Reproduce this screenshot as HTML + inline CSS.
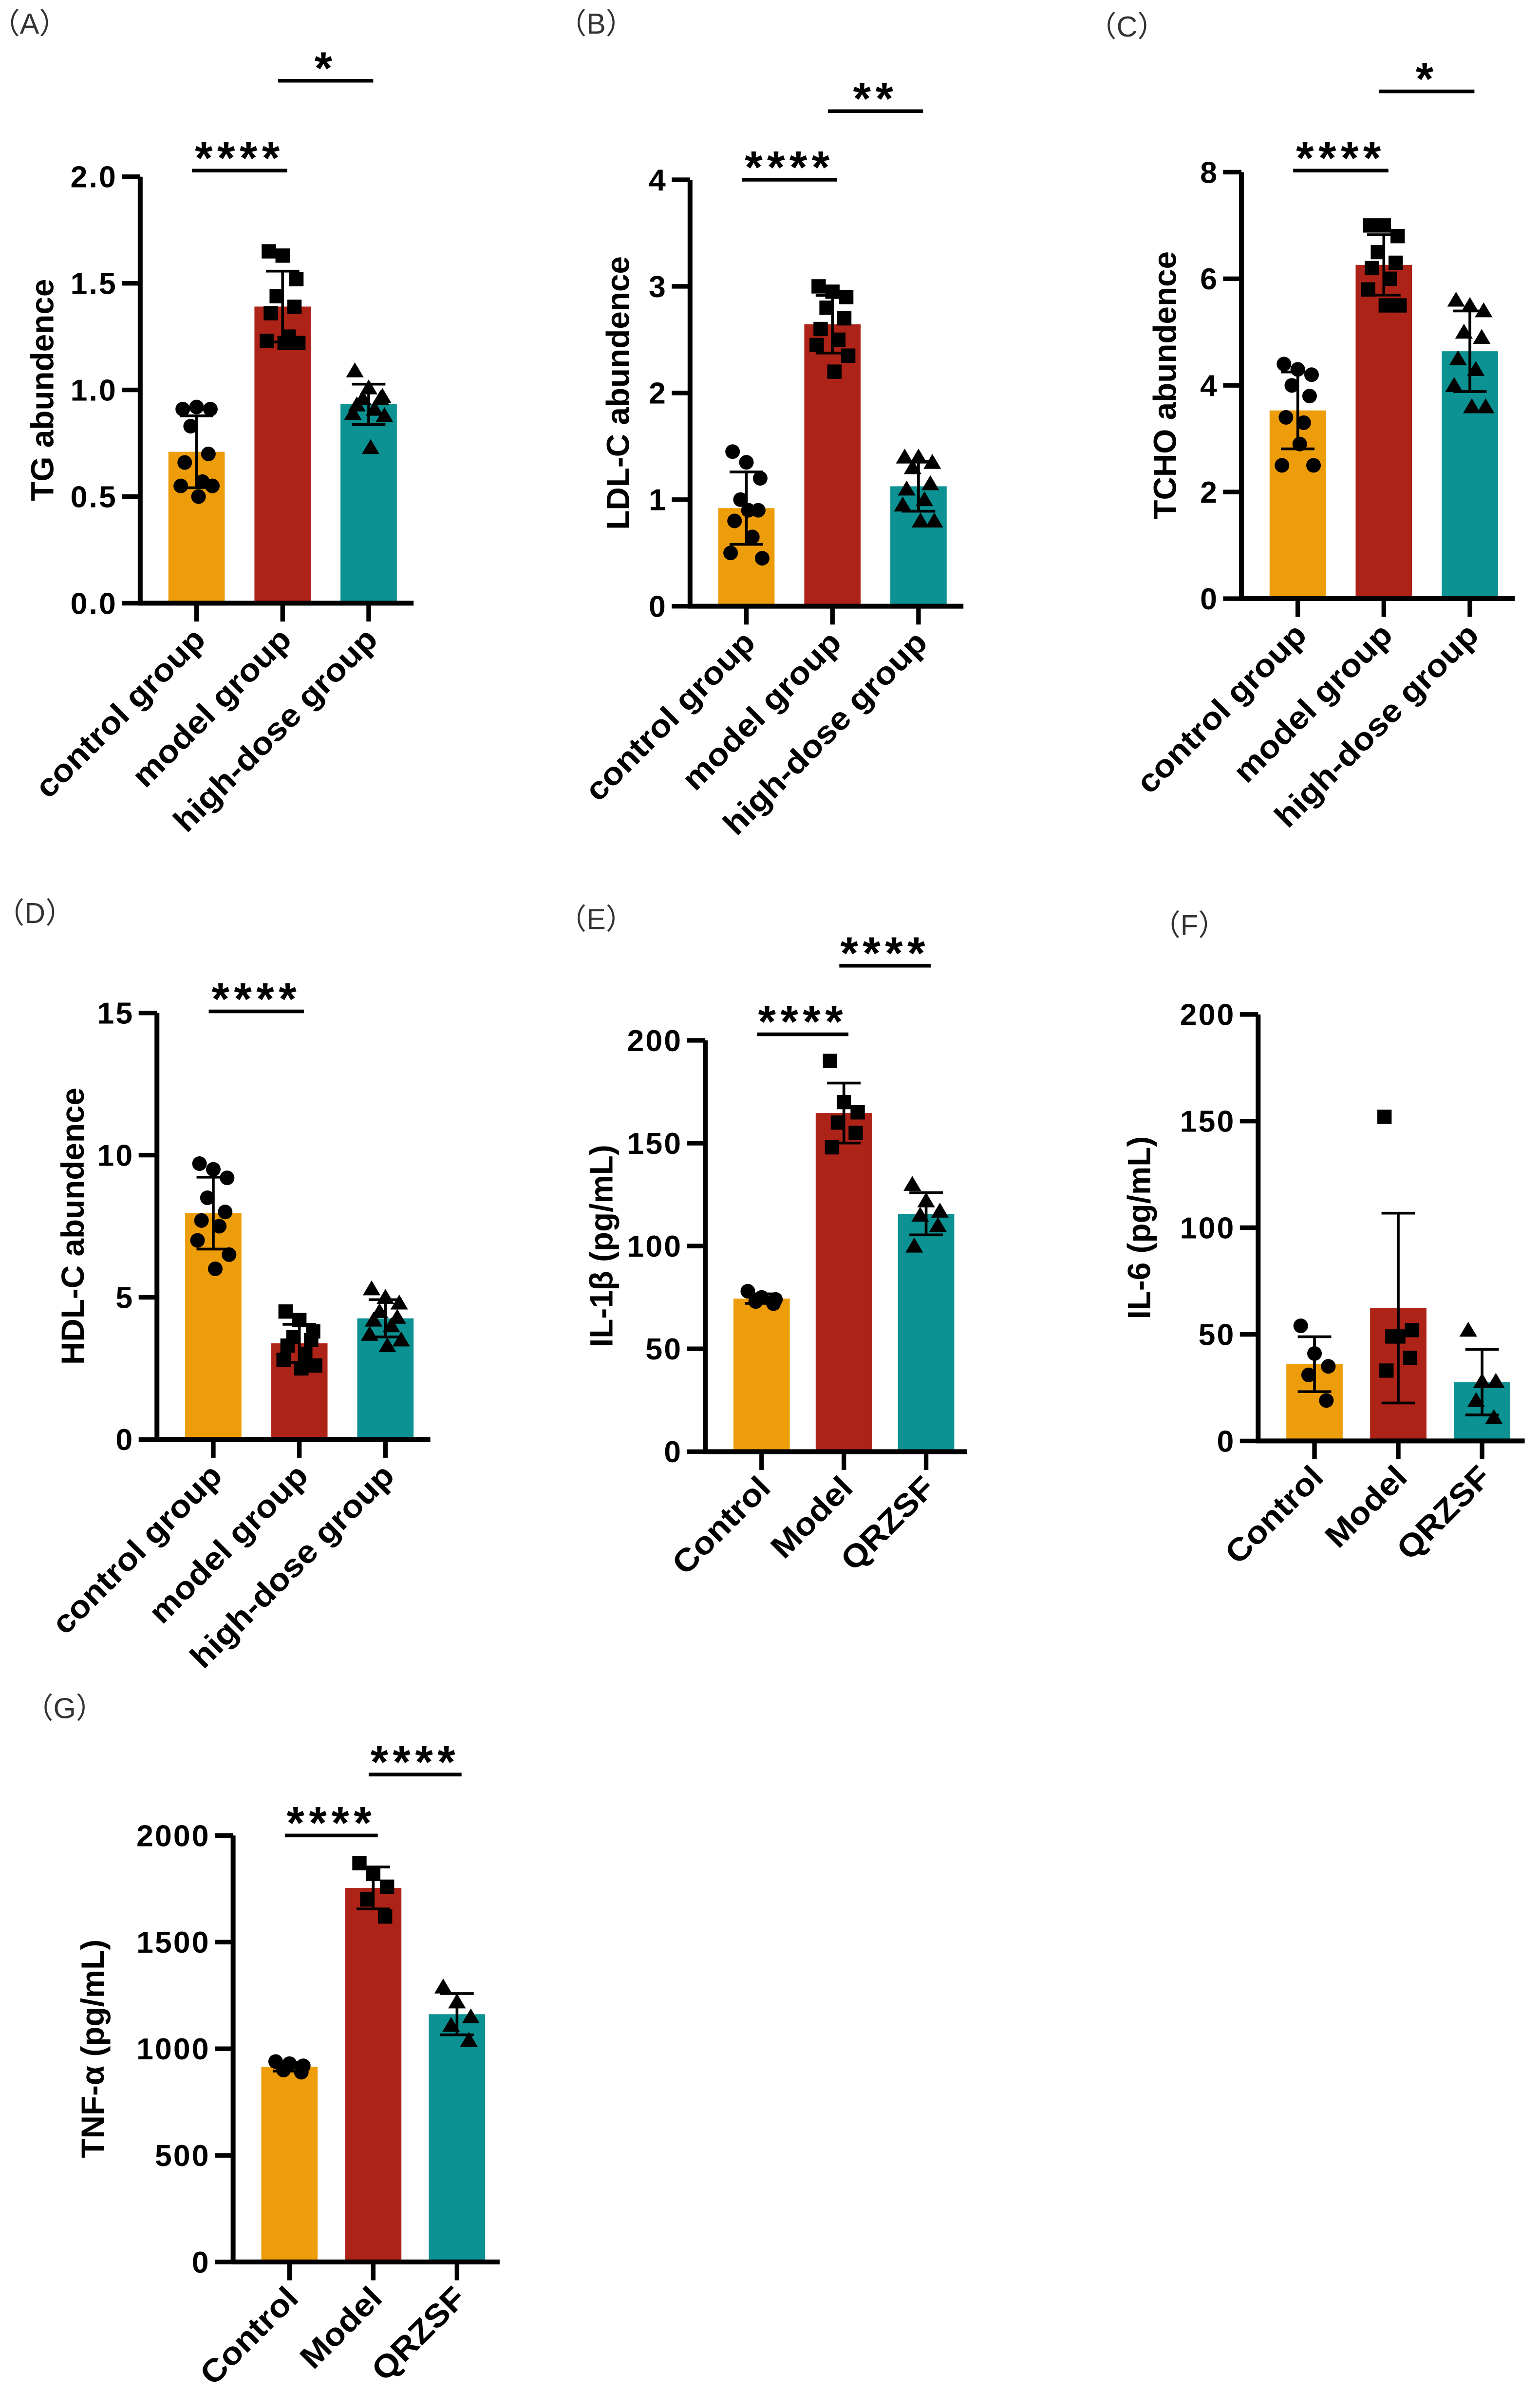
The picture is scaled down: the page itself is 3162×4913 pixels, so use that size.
<!DOCTYPE html>
<html><head><meta charset="utf-8"><style>
html,body{margin:0;padding:0;background:#fff;}
svg{display:block;}
text{font-family:"Liberation Sans",Arial,sans-serif;}
</style></head><body>
<svg id="fig" xmlns="http://www.w3.org/2000/svg" width="3162" height="4913" viewBox="0 0 1011 1571"></svg>
<script>
// ---- data arrays ----
const catsLong = ["control group","model group","high-dose group"];
const catsShort = ["Control","Model","QRZSF"];
const tgValues = [[0.91,0.92,0.91,0.83,0.70,0.66,0.57,0.55,0.55,0.50],[1.65,1.63,1.52,1.44,1.39,1.36,1.25,1.23,1.22,1.22],[1.09,1.01,0.97,0.96,0.96,0.93,0.91,0.89,0.88,0.73]];
const ldlValues = [[1.45,1.35,1.2,1.0,0.9,0.8,0.65,0.5,0.45,0.9],[3.0,2.95,2.9,2.8,2.7,2.6,2.5,2.45,2.35,2.2],[1.4,1.4,1.35,1.3,1.15,1.1,1.0,0.95,0.8,0.8]];
const tchoValues = [[4.4,4.3,4.2,4.0,3.8,3.4,3.3,2.5,2.5,2.9],[7.0,7.0,6.8,6.5,6.3,6.2,6.0,5.8,5.5,5.5],[5.6,5.5,5.4,5.0,4.9,4.5,4.3,4.0,3.6,3.6]];
const hdlValues = [[9.7,9.5,9.2,8.5,8.0,7.7,7.5,7.0,6.5,6.0],[4.5,4.2,3.8,3.6,3.5,3.3,3.0,2.8,2.6,2.5],[5.3,5.0,4.8,4.5,4.3,4.2,4.0,3.7,3.5,3.3]];
const il1bValues = [[78,75,74,73,72],[190,170,165,160,155,148],[130,122,117,115,110,100]];
const il6Values = [[54,41,35,31,19],[152,49,52,49,39,33],[52,28,28,19,11]];
const tnfValues = [[940,930,920,900,890],[1870,1820,1760,1700,1620],[1290,1220,1150,1110,1040]];
const tgTicks = ["0.0","0.5","1.0","1.5","2.0"];
const ldlTicks = ["0","1","2","3","4"];
const tchoTicks = ["0","2","4","6","8"];
const hdlTicks = ["0","5","10","15"];
const il1bTicks = ["0","50","100","150","200"];
const il6Ticks = ["0","50","100","150","200"];
const tnfTicks = ["0","500","1000","1500","2000"];

const NS="http://www.w3.org/2000/svg";
const svg=document.getElementById('fig');
const colors=["#EE9D0A","#AE2318","#0C9292"];
function el(tag,attrs,parent){const e=document.createElementNS(NS,tag);for(const k in attrs)e.setAttribute(k,attrs[k]);(parent||svg).appendChild(e);return e;}
const jitter=[-0.35,0,0.35,-0.15,0.3,-0.3,0.15,-0.4,0.4,0.05];

function panel(p){
  const g=el('g',{});
  
  
  const ymax=parseFloat(p.ticks[p.ticks.length-1]);
  const y=v=>p.y0-(v/ymax)*(p.y0-p.ytop);
  const bw=37, step=p.step||56;
  const bx=i=>p.ax+37+i*step;
  const lab=el('text',{x:p.lx,y:p.ly,'font-size':19,fill:'#333','font-family':'"Liberation Sans","Noto Sans CJK SC",sans-serif'},g);lab.textContent=p.label;
  
  p.values.forEach((vals,i)=>{
    const m=vals.reduce((a,b)=>a+b,0)/vals.length;
    const sd=Math.sqrt(vals.reduce((a,b)=>a+(b-m)*(b-m),0)/(vals.length-1));
    const r=el('rect',{x:bx(i)-bw/2,y:y(m),width:bw,height:p.y0-y(m),fill:colors[i]},g);
    
    
    vals.forEach((v,j)=>{
      const cx=bx(i)+jitter[j%jitter.length]*bw*0.7, cy=y(v);
      let mk;
      if(i===0) mk=el('circle',{cx:cx,cy:cy,r:4.8,fill:'#000'},g);
      else if(i===1) mk=el('rect',{x:cx-4.7,y:cy-4.7,width:9.4,height:9.4,fill:'#000'},g);
      else mk=el('polygon',{points:`${cx},${cy-5.5} ${cx-5.8},${cy+4.3} ${cx+5.8},${cy+4.3}`,fill:'#000'},g);
      
      
    });
    const eb=el('path',{d:`M${bx(i)},${y(m+sd)}V${y(m-sd)}M${bx(i)-11},${y(m+sd)}H${bx(i)+11}M${bx(i)-11},${y(m-sd)}H${bx(i)+11}`,stroke:'#000','stroke-width':1.8,fill:'none'},g);
    
    
    el('line',{x1:bx(i),x2:bx(i),y1:p.y0,y2:p.y0+12,stroke:'#000','stroke-width':3},g);
    const t=el('text',{x:0,y:0,'font-size':21,'font-weight':'bold','text-anchor':'end',transform:`translate(${bx(i)+7},${p.y0+25}) rotate(-45) scale(1.08,1)`},g);
    t.textContent=p.cats[i];
    
    
  });
  const ya=el('line',{x1:p.ax,x2:p.ax,y1:p.ytop,y2:p.y0,stroke:'#000','stroke-width':3.2},g);
  
  const xa=el('line',{x1:p.ax-1.5,x2:p.ax+3*step+10,y1:p.y0,y2:p.y0,stroke:'#000','stroke-width':3.2},g);
  
  p.ticks.forEach(tk=>{
    const v=parseFloat(tk);
    el('line',{x1:p.ax-12,x2:p.ax,y1:y(v),y2:y(v),stroke:'#000','stroke-width':3},g);
    const t=el('text',{x:p.ax-15,y:y(v)+7,'font-size':20,'font-weight':'bold','text-anchor':'end','letter-spacing':1},g);
    t.textContent=tk;
    
    
  });
  const yt=el('text',{x:0,y:0,'font-size':21,'font-weight':'bold','text-anchor':'middle',transform:`translate(${p.tx},${(p.ytop+p.y0)/2}) rotate(-90)`},g);
  yt.textContent=p.title;
  
  (p.sig||[]).forEach(s=>{
    const x1=bx(s[0])-3,x2=bx(s[1])+3;
    el('line',{x1:x1,x2:x2,y1:s[3],y2:s[3],stroke:'#000','stroke-width':2.4},g);
    const st=el('text',{x:(x1+x2)/2,y:s[3]+2,'font-size':30,'font-weight':'bold','text-anchor':'middle','letter-spacing':3},g);
    st.textContent=s[2];
    
  });
}
panel({name:'panel-a-tg',label:'（A）',lx:-6,ly:22,ax:92,ytop:116,y0:396,step:56.5,ticks:tgTicks,values:tgValues,cats:catsLong,title:'TG abundence',tx:35,sig:[[0,1,'****',112],[1,2,'*',53]]});
panel({name:'panel-b-ldl',label:'（B）',lx:366,ly:22,ax:453,ytop:118,y0:398,step:56.5,ticks:ldlTicks,values:ldlValues,cats:catsLong,title:'LDL-C abundence',tx:413,sig:[[0,1,'****',118],[1,2,'**',73]]});
panel({name:'panel-c-tcho',label:'（C）',lx:714,ly:24,ax:815,ytop:113,y0:393,step:56.5,ticks:tchoTicks,values:tchoValues,cats:catsLong,title:'TCHO abundence',tx:772,sig:[[0,1,'****',112],[1,2,'*',60]]});
panel({name:'panel-d-hdl',label:'（D）',lx:-3,ly:606,ax:103,ytop:665,y0:945,step:56.5,ticks:hdlTicks,values:hdlValues,cats:catsLong,title:'HDL-C abundence',tx:55,sig:[[0,1,'****',664]]});
panel({name:'panel-e-il1b',label:'（E）',lx:366,ly:610,ax:463,ytop:683,y0:953,step:54,ticks:il1bTicks,values:il1bValues,cats:catsShort,title:'IL-1β (pg/mL)',tx:402,sig:[[0,1,'****',679],[1,2,'****',634]]});
panel({name:'panel-f-il6',label:'（F）',lx:756,ly:614,ax:826,ytop:666,y0:946,step:55,ticks:il6Ticks,values:il6Values,cats:catsShort,title:'IL-6 (pg/mL)',tx:755});
panel({name:'panel-g-tnf',label:'（G）',lx:16,ly:1128,ax:153,ytop:1205,y0:1485,step:55,ticks:tnfTicks,values:tnfValues,cats:catsShort,title:'TNF-α (pg/mL)',tx:68,sig:[[0,1,'****',1205],[1,2,'****',1165]]});
</script>
</body></html>
